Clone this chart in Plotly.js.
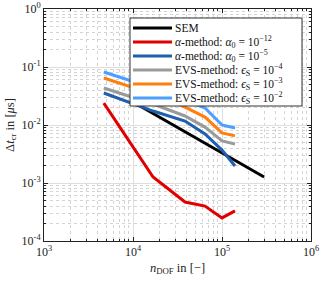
<!DOCTYPE html>
<html><head><meta charset="utf-8">
<script src="https://cdn.plot.ly/plotly-3.0.1.min.js"></script>
<style>html,body{margin:0;padding:0;background:#fff}#c{width:320px;height:281px}</style>
</head><body><div id="c"></div>
<script>
const xMesh = [4700, 16800, 38400, 64400, 100000, 140000];
const xSEM = [10000, 297000];
const ySEM = [0.0249, 0.00127];
const yAlpha12 = [0.0239, 0.00127, 0.00047, 0.00040, 0.00025, 0.00033];
const yAlpha5 = [0.0356, 0.0174, 0.0117, 0.0070, 0.0037, 0.00196];
const yEVS4 = [0.0435, 0.023, 0.0143, 0.0092, 0.0053, 0.0047];
const yEVS3 = [0.0646, 0.034, 0.0204, 0.0137, 0.0073, 0.0065];
const yEVS2 = [0.082, 0.0435, 0.027, 0.0196, 0.0100, 0.0089];
const names = ['SEM',
  '<i>α</i>-method: <i>α</i><sub>0</sub> = 10<sup>−12</sup>',
  '<i>α</i>-method: <i>α</i><sub>0</sub> = 10<sup>−5</sup>',
  'EVS-method: <i>ϵ</i><sub>S</sub> = 10<sup>−4</sup>',
  'EVS-method: <i>ϵ</i><sub>S</sub> = 10<sup>−3</sup>',
  'EVS-method: <i>ϵ</i><sub>S</sub> = 10<sup>−2</sup>'];
const colors = ['#000000', '#e00000', '#1f5fae', '#9a9a9a', '#ff7f0e', '#4d9fff'];
const ys = [ySEM, yAlpha12, yAlpha5, yEVS4, yEVS3, yEVS2];
const traces = ys.map((y, i) => ({
  x: i === 0 ? xSEM : xMesh, y: y, name: names[i], type: 'scatter', mode: 'lines',
  line: {color: colors[i], width: 3}, showlegend: false
}));
const serif = 'Liberation Serif, DejaVu Serif, serif';
const axisCommon = {
  type: 'log', showline: true, linecolor: '#222', linewidth: 1, mirror: 'ticks',
  ticks: 'inside', ticklen: 4, tickcolor: '#222',
  showgrid: true, gridcolor: '#dedede', gridwidth: 1, zeroline: false,
  tickfont: {family: serif, size: 12, color: '#222'},
  minor: {dtick: 'D1', showgrid: true, griddash: 'dot', gridcolor: '#d4d4d4', gridwidth: 1, ticks: 'inside', ticklen: 2, tickcolor: '#222'}
};
// manual legend geometry (pixels in a 320x281 figure, plot area l=44,t=9,w=267,h=232)
const W = 267, H = 232, L = 44, T = 9;
const px = v => (v - L) / W, py = v => (T + H - v) / H;
const shapes = [{type: 'rect', xref: 'paper', yref: 'paper', x0: px(130), x1: px(302), y0: py(106), y1: py(18),
  fillcolor: '#fff', line: {color: '#333', width: 1}, layer: 'above'}];
const annotations = [];
names.forEach((n, i) => {
  const yc = 28 + 14 * i;
  shapes.push({type: 'line', xref: 'paper', yref: 'paper', x0: px(133), x1: px(172), y0: py(yc), y1: py(yc),
    line: {color: colors[i], width: 3}, layer: 'above'});
  annotations.push({xref: 'paper', yref: 'paper', x: px(173), y: py(yc), xanchor: 'left', yanchor: 'middle',
    text: n, showarrow: false, font: {family: serif, size: 11.5, color: '#111'}});
});
const layout = {
  width: 320, height: 281, margin: {l: 44, r: 9, t: 9, b: 40},
  paper_bgcolor: '#fff', plot_bgcolor: '#fff', showlegend: false,
  shapes: shapes, annotations: annotations,
  xaxis: Object.assign({}, axisCommon, {range: [3, 6],
    tickvals: [1e3, 1e4, 1e5, 1e6], ticktext: ['10<sup>3</sup>', '10<sup>4</sup>', '10<sup>5</sup>', '10<sup>6</sup>'],
    title: {text: '<i>n</i><sub>DOF</sub> in [−]', font: {family: serif, size: 12.5, color: '#222'}, standoff: 4}}),
  yaxis: Object.assign({}, axisCommon, {range: [-4, 0],
    tickvals: [1e-4, 1e-3, 1e-2, 1e-1, 1], ticktext: ['10<sup>-4</sup>', '10<sup>-3</sup>', '10<sup>-2</sup>', '10<sup>-1</sup>', '10<sup>0</sup>'],
    title: {text: 'Δ<i>t</i><sub>cr</sub> in [<i>μ</i>s]', font: {family: serif, size: 12.5, color: '#222'}, standoff: 4}})
};
Plotly.newPlot('c', traces, layout, {staticPlot: true, displayModeBar: false});
</script></body></html>
